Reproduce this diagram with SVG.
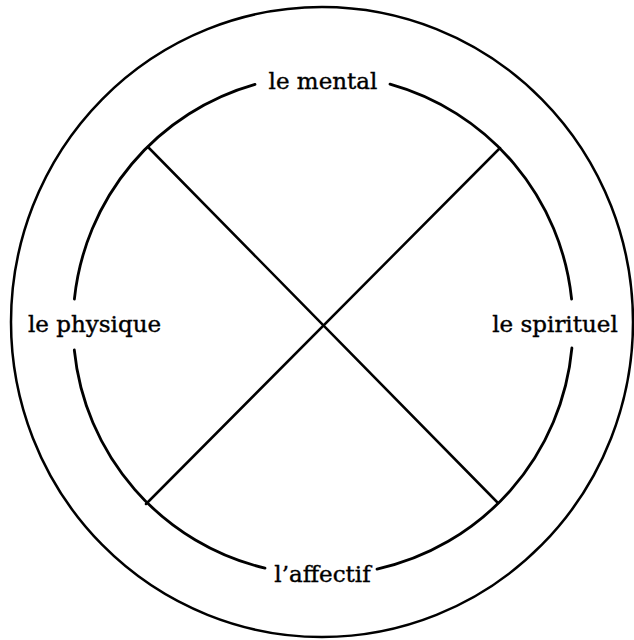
<svg xmlns="http://www.w3.org/2000/svg" width="634" height="640" viewBox="0 0 634 640">
<style>
.c{fill:none;stroke:#000;stroke-linecap:round}
.t{font-family:"DejaVu Serif","Liberation Serif",serif;font-size:23px;fill:#000;stroke:#000;stroke-width:0.4;text-anchor:middle}
</style>
<rect width="634" height="640" fill="#fff"/>
<g id="outer"><ellipse class="c" cx="322" cy="322" rx="311" ry="315" stroke-width="2.5"/></g>
<g id="inner">
<path class="c" stroke-width="2.8" d="M390,84.1 A250,250 0 0 1 571.6,299 M571.9,348 A250,250 0 0 1 377,569.1 M265,568.2 A250,250 0 0 1 74.3,350 M74.4,299 A250,250 0 0 1 255,84.4"/>
</g>
<g id="connectors">
<line class="c" x1="148" y1="147" x2="498" y2="503" stroke-width="2.5"/>
<line class="c" x1="500" y1="148" x2="146" y2="504" stroke-width="2.5"/>
</g>
<g id="mental"><text class="t" x="323" y="89">le mental</text></g>
<g id="physique"><text class="t" x="94.5" y="332">le physique</text></g>
<g id="spirituel"><text class="t" x="555" y="332">le spirituel</text></g>
<g id="affectif"><text class="t" x="322.5" y="582">l’affectif</text></g>
</svg>
